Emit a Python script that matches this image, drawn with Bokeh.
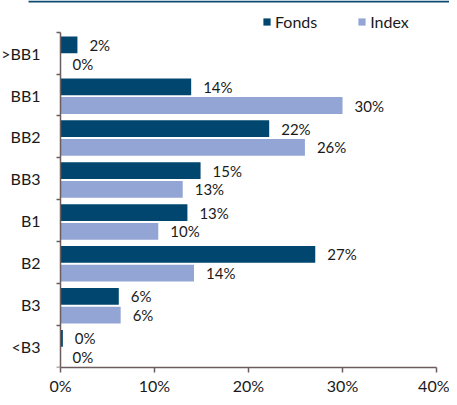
from bokeh.plotting import figure
from bokeh.models import (Range1d, FixedTicker, PrintfTickFormatter, Legend,
                          LegendItem, ColumnDataSource, BoxAnnotation)
from bokeh.transform import dodge
from bokeh.core.properties import value
from bokeh.embed import file_html
from bokeh.resources import INLINE

categories = [">BB1", "BB1", "BB2", "BB3", "B1", "B2", "B3", "<B3"]
fonds = [1.8, 13.9, 22.2, 14.9, 13.5, 27.1, 6.2, 0.25]
index = [0.0, 30.0, 26.0, 13.0, 10.4, 14.2, 6.4, 0.0]
fonds_labels = ["2%", "14%", "22%", "15%", "13%", "27%", "6%", "0%"]
index_labels = ["0%", "30%", "26%", "13%", "10%", "14%", "6%", "0%"]
x_ticks = [0, 10, 20, 30, 40]

FONDS_COLOR = "#00466f"
INDEX_COLOR = "#93a5d5"
AXIS_COLOR = "#6b5d5d"
TEXT_COLOR = "#1a1a1a"
FONT = "Lato"

n = len(categories)
ypos = [n - i - 0.5 for i in range(n)]
Y_TOP = n + 0.755

src = ColumnDataSource(dict(y=ypos, cat=categories, fonds=fonds, index=index,
                            fl=fonds_labels, il=index_labels))

# frame covers the full figure width/top so the legend and rule fit inside it;
# the value axis is pinned at x = 0 inside the frame
p = figure(width=449, height=397, output_backend="svg", toolbar_location=None,
           x_range=Range1d(-6.383, 41.38), y_range=Range1d(0, Y_TOP),
           min_border_left=0, min_border_right=0, min_border_top=0,
           min_border_bottom=29)
p.outline_line_color = None
p.xgrid.visible = False
p.ygrid.visible = False

r1 = p.hbar(y=dodge("y", 0.196), right="fonds", left=0, height=0.4, source=src,
            fill_color=FONDS_COLOR, line_color=None)
r2 = p.hbar(y=dodge("y", -0.25), right="index", left=0, height=0.4, source=src,
            fill_color=INDEX_COLOR, line_color=None)

p.text(x="fonds", y=dodge("y", 0.196), text="fl", source=src, x_offset=12,
       text_baseline="middle", text_align="left", text_font=value(FONT),
       text_font_size="15px", text_color=TEXT_COLOR)
p.text(x="index", y=dodge("y", -0.25), text="il", source=src, x_offset=12,
       text_baseline="middle", text_align="left", text_font=value(FONT),
       text_font_size="15px", text_color=TEXT_COLOR)

# y axis
ya = p.yaxis[0]
ya.fixed_location = 0
ya.bounds = (0, n)
ya.ticker = FixedTicker(ticks=ypos, minor_ticks=list(range(0, n + 1)))
ya.major_label_overrides = {y: c for y, c in zip(ypos, categories)}
ya.major_tick_out = 0
ya.major_tick_in = 0
ya.minor_tick_out = 4
ya.minor_tick_in = 0
ya.minor_tick_line_color = AXIS_COLOR
ya.minor_tick_line_width = 1.5
ya.axis_line_color = AXIS_COLOR
ya.axis_line_width = 1.5
ya.major_label_standoff = 16
ya.major_label_text_font = FONT
ya.major_label_text_font_size = "16px"
ya.major_label_text_color = TEXT_COLOR

# x axis
xa = p.xaxis[0]
xa.bounds = (0, 40)
xa.ticker = FixedTicker(ticks=x_ticks)
xa.formatter = PrintfTickFormatter(format="%d%%")
xa.major_tick_out = 5
xa.major_tick_in = 0
xa.minor_tick_out = 0
xa.minor_tick_in = 0
xa.major_tick_line_color = AXIS_COLOR
xa.major_tick_line_width = 1.5
xa.axis_line_color = AXIS_COLOR
xa.axis_line_width = 1.5
xa.major_label_standoff = 3
xa.major_label_text_font = FONT
xa.major_label_text_font_size = "16px"
xa.major_label_text_color = TEXT_COLOR

legend = Legend(items=[LegendItem(label="Fonds", renderers=[r1]),
                       LegendItem(label="Index", renderers=[r2])],
                orientation="horizontal", location=(262, 336),
                glyph_width=9, glyph_height=9, label_standoff=4, spacing=40,
                label_height=18, padding=0, margin=0, border_line_color=None,
                background_fill_alpha=0, label_text_font=FONT,
                label_text_font_size="16px", label_text_color=TEXT_COLOR)
p.add_layout(legend)

# header rule
p.add_layout(BoxAnnotation(left=-3.4, right=41.38, top=Y_TOP, bottom=Y_TOP - 0.05,
                           fill_color="#0b4a73", fill_alpha=1, line_color=None))

open("out.html", "w").write(file_html(p, INLINE))
